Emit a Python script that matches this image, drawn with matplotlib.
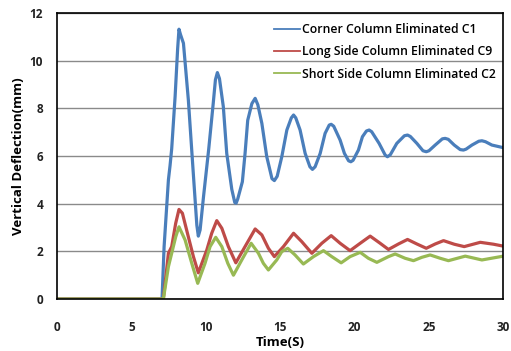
import matplotlib
matplotlib.use("Agg")
import matplotlib.pyplot as plt
from matplotlib.lines import Line2D

# ---------------------------------------------------------------
# data
t_c1 = [0, 7.06, 7.2, 7.49, 7.6, 7.71, 7.94, 8.11, 8.2, 8.3, 8.5, 8.83, 9.17,
        9.4, 9.5, 9.62, 9.85, 10.2, 10.5, 10.65, 10.78, 10.92, 11.18, 11.41,
        11.75, 11.95, 12.04, 12.15, 12.46, 12.64, 12.82, 13.1, 13.32, 13.5,
        13.77, 14.1, 14.45, 14.61, 14.8, 15.11, 15.45, 15.75, 15.9, 16.05,
        16.34, 16.68, 17.0, 17.17, 17.35, 17.69, 18.02, 18.3, 18.43, 18.6,
        19.03, 19.32, 19.6, 19.75, 19.9, 20.26, 20.53, 20.8, 20.98, 21.15,
        21.65, 22.06, 22.21, 22.4, 22.84, 23.35, 23.56, 23.75, 24.19, 24.6,
        24.82, 25.0, 25.42, 25.9, 26.09, 26.3, 26.7, 27.1, 27.32, 27.5,
        27.89, 28.35, 28.56, 28.8, 29.23, 30]
c1 = [0, 0, 2.2, 5.0, 5.6, 6.3, 8.5, 10.5, 11.32, 11.1, 10.73, 8.35, 5.2,
      3.1, 2.64, 2.9, 4.3, 6.3, 8.2, 9.2, 9.5, 9.25, 8.07, 6.11,
      4.6, 4.05, 4.02, 4.2, 4.92, 6.1, 7.5, 8.2, 8.42, 8.15,
      7.37, 5.97, 5.05, 4.97, 5.15, 5.97, 7.09, 7.6, 7.72, 7.6,
      7.09, 6.11, 5.55, 5.44, 5.55, 6.11, 6.95, 7.3, 7.33, 7.25,
      6.67, 6.11, 5.8, 5.76, 5.82, 6.25, 6.81, 7.05, 7.09, 7.02,
      6.53, 6.04, 5.97, 6.05, 6.53, 6.85, 6.88, 6.82, 6.53, 6.22,
      6.18, 6.22, 6.46, 6.72, 6.74, 6.7, 6.46, 6.27, 6.25, 6.29,
      6.46, 6.62, 6.64, 6.6, 6.46, 6.35]

t_c9 = [0, 7.15, 7.49, 7.71, 7.98, 8.2, 8.43, 8.83, 9.17, 9.5, 10.07, 10.4,
        10.74, 11.08, 11.52, 12.02, 12.64, 13.32, 13.77, 14.21, 14.61, 15.22,
        15.9, 16.45, 17.13, 17.8, 18.43, 19.03, 19.7, 20.38, 21.05, 21.72,
        22.28, 22.95, 23.56, 24.19, 24.82, 25.42, 25.98, 26.7, 27.37, 28.45,
        29.34, 30]
c9 = [0, 0, 1.92, 2.2, 3.18, 3.76, 3.6, 2.61, 1.78, 1.1, 2.06, 2.76,
      3.29, 2.97, 2.2, 1.52, 2.2, 2.94, 2.69, 2.13, 1.78, 2.2,
      2.76, 2.41, 1.92, 2.34, 2.66, 2.34, 2.03, 2.34, 2.64, 2.34,
      2.08, 2.31, 2.5, 2.31, 2.13, 2.31, 2.45, 2.3, 2.2, 2.38,
      2.3, 2.22]

t_c2 = [0, 7.15, 7.49, 7.71, 7.98, 8.2, 8.61, 9.06, 9.46, 9.95, 10.29, 10.67,
        11.08, 11.48, 11.86, 12.42, 13.05, 13.54, 13.87, 14.21, 14.77, 15.11,
        15.51, 16.0, 16.56, 17.24, 17.91, 18.47, 19.1, 19.7, 20.38, 20.93,
        21.5, 22.28, 22.73, 23.4, 23.96, 24.52, 25.08, 25.76, 26.31, 27.44,
        28.56, 30]
c2 = [0, 0, 1.36, 1.92, 2.61, 3.03, 2.48, 1.5, 0.66, 1.5, 2.2, 2.59,
      2.2, 1.5, 1.0, 1.64, 2.34, 1.92, 1.5, 1.22, 1.64, 1.99,
      2.13, 1.85, 1.47, 1.78, 2.03, 1.78, 1.52, 1.78, 1.96, 1.71,
      1.54, 1.78, 1.89, 1.71, 1.61, 1.75, 1.85, 1.71, 1.61, 1.8,
      1.64, 1.8]

labels = ["Corner Column Eliminated C1",
          "Long Side Column Eliminated C9",
          "Short Side Column Eliminated C2"]
colors = ["#4A7EBB", "#BE4B48", "#98B954"]

# ---------------------------------------------------------------
plt.rcParams['font.family'] = ['Open Sans', 'DejaVu Sans']

fig = plt.figure(figsize=(5.11, 3.51), dpi=100)
ax = fig.add_axes([0.1115, 0.148, 0.8735, 0.815])

series = [(t_c1, c1), (t_c9, c9), (t_c2, c2)]
for (t, v), col in zip(series, colors):
    ax.plot(t, v, color=col, lw=2.3, solid_joinstyle='round', solid_capstyle='round')

ax.set_xlim(0, 30)
ax.set_ylim(0, 12)
ax.set_xticks(range(0, 31, 5))
ax.set_yticks(range(0, 13, 2))
ax.yaxis.grid(True, color="#8a8a8a", lw=1)
ax.set_axisbelow(True)
ax.tick_params(length=0, labelsize=8.5, colors="#222222")
ax.tick_params(axis='x', pad=16)
ax.tick_params(axis='y', pad=10)
for lab in ax.get_xticklabels() + ax.get_yticklabels():
    lab.set_fontweight('bold')
for sp in ax.spines.values():
    sp.set_color("black")
    sp.set_linewidth(1.2)

ax.set_xlabel("Time(S)", fontsize=9.5, fontweight='bold', labelpad=1)
ax.set_ylabel("Vertical Deflection(mm)", fontsize=9.5, fontweight='bold', labelpad=3)

handles = [Line2D([], [], color=c, lw=1.3) for c in colors]
ax.legend(handles, labels, loc='upper right', frameon=False,
          handlelength=2.1, handletextpad=0.2, labelspacing=0.75,
          bbox_to_anchor=(1.0, 0.99), borderaxespad=0.2,
          prop={'weight': 'semibold', 'size': 8.8})

fig.savefig("out.png", dpi=100)
